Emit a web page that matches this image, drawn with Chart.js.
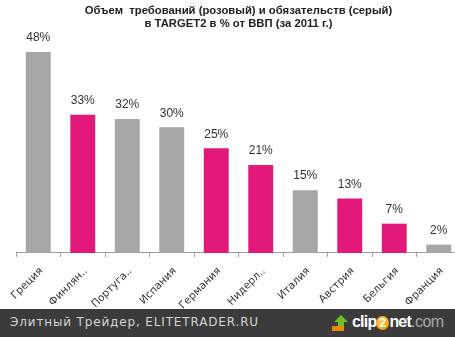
<!DOCTYPE html>
<html><head><meta charset="utf-8">
<script src="https://cdn.jsdelivr.net/npm/chart.js@4/dist/chart.umd.min.js"></script>
<style>
html,body{margin:0;padding:0;width:455px;height:337px;overflow:hidden;background:#fff;}
#wrap{position:absolute;left:0;top:0;width:461px;height:320px;}
#footer{position:absolute;left:0;top:309px;width:455px;height:28px;background:#3b3b3b;}
#ftext{position:absolute;left:10px;top:6px;font-family:"DejaVu Sans",sans-serif;font-size:12px;letter-spacing:0.85px;color:#d4d4d4;white-space:nowrap;}
#logo{position:absolute;left:332px;top:4px;height:22px;white-space:nowrap;font-family:"Liberation Sans",Arial,sans-serif;font-weight:bold;font-size:16px;letter-spacing:-0.8px;color:#fff;}
#logo .arr{display:inline-block;vertical-align:middle;width:16px;height:18px;position:relative;margin-right:4px;}
#logo .two{display:inline-block;width:13px;height:14px;border-radius:50%;background:radial-gradient(circle at 40% 35%,#ffd04a,#f08a00);color:#fff;font-size:12px;line-height:14px;text-align:center;letter-spacing:0;vertical-align:0px;}
#logo .com{color:#a8a8a8;font-weight:normal;letter-spacing:-0.5px;}
</style></head>
<body>
<div id="wrap"><canvas id="c" width="461" height="320"></canvas></div>
<div id="footer">
<div id="ftext">Элитный Трейдер, ELITETRADER.RU</div>
<div id="logo"><span class="arr"><svg width="16" height="18" viewBox="0 0 16 18"><polygon points="9,1 16,8 12,8 12,13 6,13 6,8 2,8" fill="#6cc21c"/><rect x="0" y="12" width="12" height="5" fill="#f08a00"/></svg></span>clip<span class="two">2</span>net<span class="com">.com</span></div>
</div>
<script>
const categories = ["Греция","Финлян..","Португа..","Испания","Германия","Нидерл..","Италия","Австрия","Бельгия","Франция"];
const values = [48,33,32,30,25,21,15,13,7,2];
const kinds = ["liab","claim","liab","liab","claim","claim","liab","claim","claim","liab"];
const titleLines = ["Объем  требований (розовый) и обязательств (серый)","в TARGET2 в % от ВВП (за 2011 г.)"];
const colorMap = {claim:"#e2197a", liab:"#a6a6a6"};

const valueLabels = {
  id:"valueLabels",
  afterDatasetsDraw(chart){
    const ctx = chart.ctx;
    const meta = chart.getDatasetMeta(0);
    ctx.save();
    ctx.font = "12px 'Liberation Sans', Arial, sans-serif";
    ctx.fillStyle = "#333";
    ctx.textAlign = "center";
    ctx.textBaseline = "bottom";
    meta.data.forEach((bar,i)=>{
      ctx.fillText(values[i]+"%", bar.x, bar.y-8);
    });
    ctx.restore();
  }
};

new Chart(document.getElementById("c"),{
  type:"bar",
  data:{labels:categories,datasets:[{data:values,backgroundColor:kinds.map(k=>colorMap[k]),categoryPercentage:1,barPercentage:0.56}]},
  options:{
    responsive:false,animation:false,
    layout:{padding:{left:16,right:0,top:0,bottom:0}},
    plugins:{
      legend:{display:false},tooltip:{enabled:false},
      title:{display:true,text:titleLines,color:"#222",font:{family:"'Liberation Sans', Arial, sans-serif",size:11.3,weight:"bold"},padding:{top:4,bottom:2},lineHeight:1.15}
    },
    scales:{
      x:{
        grid:{display:true,drawOnChartArea:false,drawTicks:true,tickLength:4,color:"#a0a0a0",offset:true},
        border:{display:true,color:"#a0a0a0"},
        ticks:{autoSkip:false,maxRotation:45,minRotation:45,color:"#333",padding:8,labelOffset:3,font:{family:"'DejaVu Sans', sans-serif",size:10.5}}
      },
      y:{display:false,min:0,max:52.5}
    }
  },
  plugins:[valueLabels]
});
</script>
</body></html>
